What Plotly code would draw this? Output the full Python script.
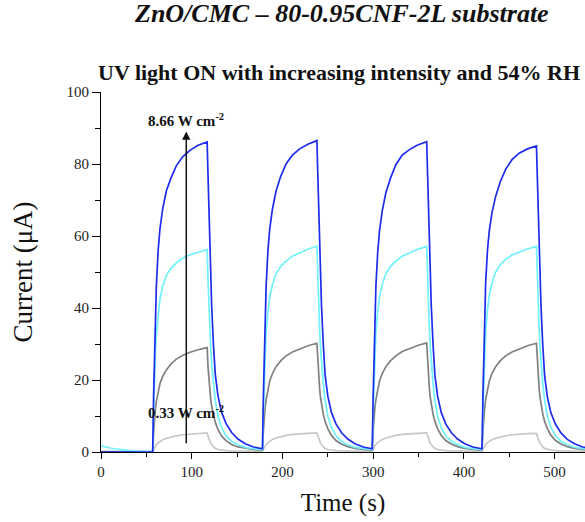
import plotly.graph_objects as go

# Sample times (s): idle period, then four UV ON/OFF cycles
time_s = [
    0, 5, 10, 15, 20, 30, 40, 50, 56,
    57, 58, 59, 60, 61, 63, 65, 68, 72, 77, 83, 90, 98, 107, 117,
    118, 119, 120, 121, 122, 124, 126, 129, 133, 138, 144, 151, 159, 168, 177,
    178, 179, 180, 181, 182, 184, 186, 189, 193, 198, 204, 211, 219, 228, 238,
    239, 240, 241, 242, 243, 245, 247, 250, 254, 259, 265, 272, 280, 289, 298,
    299, 300, 301, 302, 303, 305, 307, 310, 314, 319, 325, 332, 340, 349, 359,
    360, 361, 362, 363, 364, 366, 368, 371, 375, 380, 386, 393, 401, 410, 419,
    420, 421, 422, 423, 424, 426, 428, 431, 435, 440, 446, 453, 461, 470, 480,
    481, 482, 483, 484, 485, 487, 489, 492, 496, 501, 507, 514, 522, 531, 540,
]

# Current (uA) at 0.33 W cm^-2
current_low = [
    0.05, 0.05, 0.05, 0.05, 0.05, 0.05, 0.05, 0.05, 0.05,
    0.05, 0.7, 1.3, 1.7, 2.0, 2.5, 2.9, 3.4, 3.8, 4.2, 4.5, 4.8, 5.0, 5.2, 5.3,
    4.4, 3.6, 2.9, 2.4, 2.0, 1.4, 1.0, 0.7, 0.5, 0.4, 0.3, 0.25, 0.2, 0.2, 0.2,
    0.2, 0.8, 1.4, 1.8, 2.1, 2.6, 3.0, 3.5, 3.9, 4.3, 4.6, 4.9, 5.1, 5.2, 5.3,
    4.4, 3.6, 2.9, 2.4, 2.0, 1.4, 1.0, 0.7, 0.5, 0.4, 0.3, 0.25, 0.2, 0.2, 0.2,
    0.2, 0.8, 1.4, 1.8, 2.1, 2.6, 3.0, 3.5, 3.9, 4.3, 4.6, 4.9, 5.1, 5.2, 5.3,
    4.4, 3.6, 2.9, 2.4, 2.0, 1.4, 1.0, 0.7, 0.5, 0.4, 0.3, 0.25, 0.2, 0.2, 0.2,
    0.2, 0.8, 1.4, 1.8, 2.1, 2.6, 3.0, 3.4, 3.8, 4.2, 4.5, 4.8, 5.0, 5.1, 5.2,
    4.3, 3.5, 2.9, 2.4, 2.0, 1.4, 1.0, 0.7, 0.5, 0.4, 0.3, 0.25, 0.2, 0.2, 0.2,
]

# Current (uA), second intensity step
current_mid_low = [
    0.1, 0.1, 0.1, 0.1, 0.1, 0.1, 0.1, 0.1, 0.1,
    0.1, 5.5, 9.5, 12, 14, 17, 19, 21, 22.8, 24.4, 25.8, 26.8, 27.7, 28.4, 29.0,
    23.5, 19.7, 16.8, 14.4, 12.7, 10.1, 8.2, 6.2, 4.4, 3.1, 2.1, 1.4, 1.0, 0.7, 0.5,
    0.5, 6, 10, 12.5, 14.5, 17.5, 19.7, 21.8, 23.7, 25.3, 26.7, 27.8, 28.7, 29.5, 30.2,
    24.5, 20.5, 17.5, 15, 13.2, 10.5, 8.5, 6.5, 4.6, 3.2, 2.2, 1.5, 1.0, 0.7, 0.5,
    0.5, 6, 10, 12.5, 14.5, 17.5, 19.7, 21.8, 23.7, 25.3, 26.7, 27.9, 28.8, 29.6, 30.3,
    24.5, 20.5, 17.5, 15, 13.2, 10.5, 8.5, 6.5, 4.6, 3.2, 2.2, 1.5, 1.0, 0.7, 0.5,
    0.5, 6, 10, 12.5, 14.5, 17.5, 19.7, 21.8, 23.7, 25.3, 26.7, 27.8, 28.7, 29.5, 30.2,
    24.5, 20.5, 17.5, 15, 13.2, 10.5, 8.5, 6.5, 4.6, 3.2, 2.2, 1.5, 1.0, 0.7, 0.5,
]

# Current (uA), third intensity step
current_mid_high = [
    1.7, 1.35, 1.1, 0.9, 0.72, 0.45, 0.25, 0.12, 0.1,
    0.1, 11, 21, 28, 32.5, 38.5, 42.5, 46, 49, 51, 52.5, 53.8, 54.8, 55.5, 56.2,
    47.5, 39.5, 33.5, 28.5, 24.5, 18.7, 14.3, 9.9, 6.7, 4.4, 3.0, 2.0, 1.3, 0.9, 0.6,
    0.6, 11, 21, 28, 33, 39, 43, 46.5, 49.5, 51.5, 53, 54.4, 55.4, 56.3, 57.2,
    48, 40, 34, 29, 25, 19, 14.5, 10, 6.8, 4.5, 3.0, 2.0, 1.3, 0.9, 0.6,
    0.6, 11, 21, 28, 33, 39, 43, 46.5, 49.5, 51.5, 53, 54.4, 55.4, 56.3, 57.1,
    48, 40, 34, 29, 25, 19, 14.5, 10, 6.8, 4.5, 3.0, 2.0, 1.3, 0.9, 0.6,
    0.6, 11, 21, 28.5, 33.5, 39.5, 43.5, 47, 50, 52, 53.5, 54.7, 55.6, 56.4, 57.1,
    48, 40, 34, 29, 25, 19, 14.5, 10, 6.8, 4.5, 3.0, 2.0, 1.3, 0.9, 0.6,
]

# Current (uA) at 8.66 W cm^-2
current_high = [
    0, 0, 0, 0, 0, 0, 0, 0, 0,
    0.0, 16, 29, 39, 46, 56, 62, 67.5, 72.5, 76, 79.5, 82, 83.8, 85.2, 86.1,
    76.5, 65.5, 55.5, 47.5, 40.5, 29.5, 21.5, 15.5, 11, 7.8, 5.4, 3.6, 2.3, 1.4, 0.9,
    0.9, 16, 29, 39, 46, 56, 62, 67.5, 72.5, 76.5, 80, 82.5, 84.2, 85.5, 86.5,
    77, 66, 56, 48, 41, 30, 21.5, 15.5, 11, 7.8, 5.4, 3.6, 2.3, 1.4, 0.9,
    0.9, 15.5, 28.5, 38.5, 46, 55.5, 61.5, 67, 72, 76, 79.8, 82.5, 84, 85.3, 86.2,
    77, 66, 56, 48, 41, 30, 21.5, 15.5, 11, 7.8, 5.4, 3.6, 2.3, 1.4, 0.9,
    0.9, 16, 30, 40, 47, 56, 61.5, 66.5, 71, 75, 78.5, 81.2, 83, 84.2, 85.0,
    76, 65, 55.5, 47.5, 40.5, 29.5, 21.2, 15.3, 10.8, 7.7, 5.3, 3.5, 2.3, 1.4, 0.9,
]

series_names = ["0.33 W cm⁻²", "level 2", "level 3", "8.66 W cm⁻²"]
series_values = [current_low, current_mid_low, current_mid_high, current_high]
series_colors = ["#C8C8C8", "#808080", "#70F2FA", "#1E2CEB"]

SERIF = "Liberation Serif, Times New Roman, serif"

fig = go.Figure()
for name, vals, col in zip(series_names, series_values, series_colors):
    fig.add_trace(go.Scatter(
        x=time_s, y=vals, mode="lines", name=name,
        line=dict(color=col, width=1.7), showlegend=False,
    ))

fig.update_layout(
    width=585, height=522, autosize=False,
    margin=dict(l=101, r=0, t=92, b=70, pad=0),
    paper_bgcolor="white", plot_bgcolor="white",
    font=dict(family=SERIF, color="#111"),
)

fig.update_xaxes(
    range=[0, 533.5], tick0=0, dtick=100,
    ticks="outside", ticklen=6, tickwidth=1, tickcolor="black",
    minor=dict(dtick=50, ticks="outside", ticklen=4, tickcolor="black", tickwidth=1),
    showgrid=False, zeroline=False, showline=True, linecolor="black", linewidth=1,
    tickfont=dict(family=SERIF, size=15, color="#222"),
    title=dict(text="Time (s)", font=dict(family=SERIF, size=25, color="#111"), standoff=14),
)
fig.update_yaxes(
    range=[0, 100], tick0=0, dtick=20,
    ticks="outside", ticklen=8, tickwidth=1, tickcolor="black",
    minor=dict(dtick=10, ticks="outside", ticklen=5, tickcolor="black", tickwidth=1),
    showgrid=False, zeroline=False, showline=True, linecolor="black", linewidth=1,
    tickfont=dict(family=SERIF, size=15, color="#222"),
    title=dict(text="Current (μA)", font=dict(family=SERIF, size=27, color="#111"), standoff=26),
)

# Titles
fig.add_annotation(
    xref="paper", yref="paper", x=0.497, y=1.217, xanchor="center", yanchor="middle",
    text="<b><i>ZnO/CMC – 80-0.95CNF-2L substrate</i></b>", showarrow=False,
    font=dict(family=SERIF, size=26, color="#111"),
)
fig.add_annotation(
    xref="paper", yref="paper", x=0.4917, y=1.053, xanchor="center", yanchor="middle",
    text="<b>UV light ON with increasing intensity and 54% RH</b>", showarrow=False,
    font=dict(family=SERIF, size=22, color="#111"),
)

# Intensity arrow and its labels
fig.add_annotation(
    x=94, y=89, ax=94, ay=2, xref="x", yref="y", axref="x", ayref="y",
    text="", showarrow=True, arrowhead=2, arrowsize=1.1, arrowwidth=1.5, arrowcolor="#111",
)
fig.add_annotation(
    x=94, y=92.2, xref="x", yref="y", text="<b>8.66 W cm<sup>-2</sup></b>",
    showarrow=False, font=dict(family=SERIF, size=15, color="#111"),
)
fig.add_annotation(
    x=94, y=11.2, xref="x", yref="y", text="<b>0.33 W cm<sup>-2</sup></b>",
    showarrow=False, font=dict(family=SERIF, size=15, color="#111"),
)

fig.write_html("out.html")
